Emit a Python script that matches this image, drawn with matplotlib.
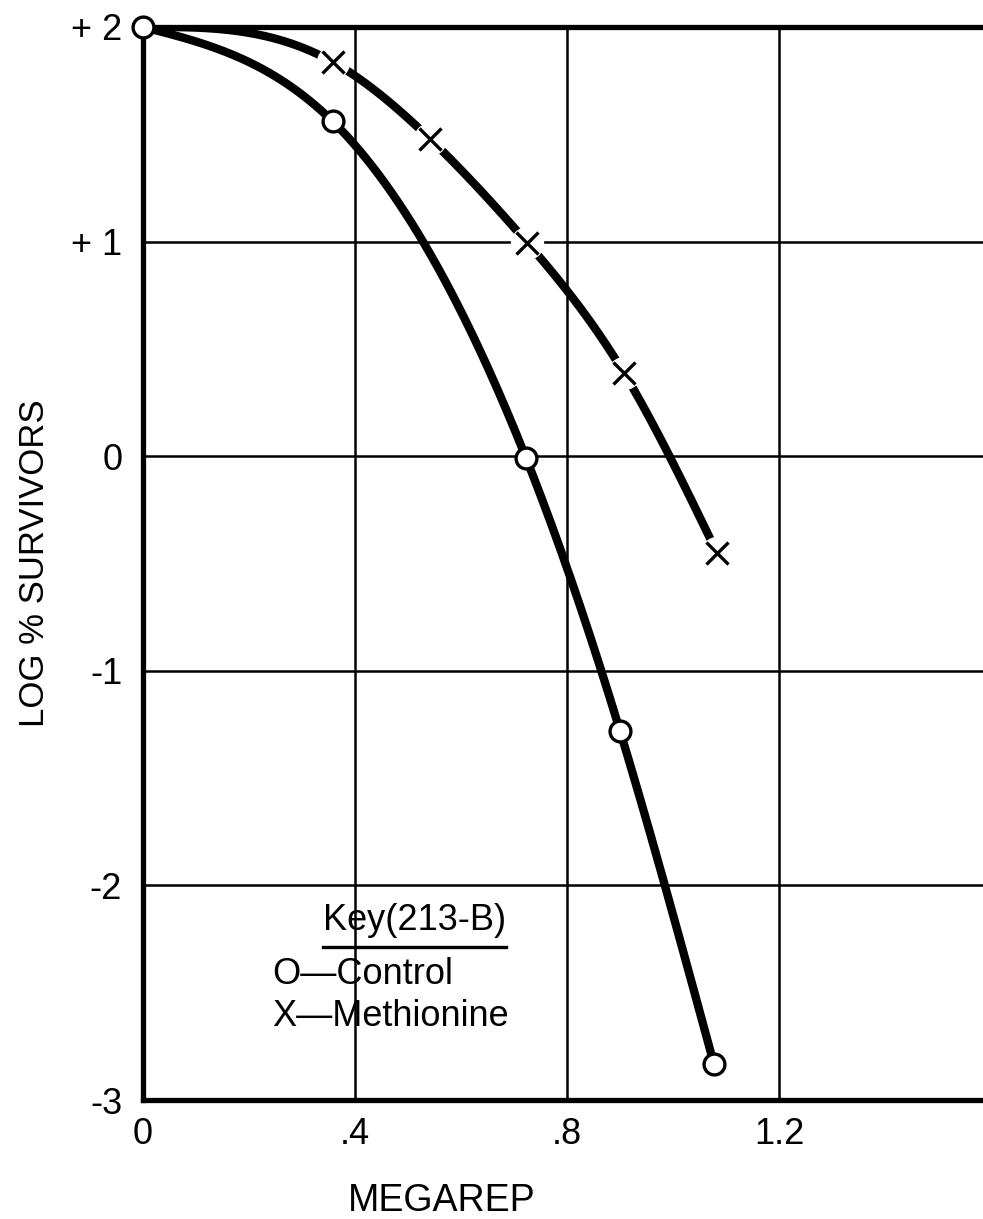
import matplotlib.pyplot as plt
from matplotlib.lines import Line2D
import numpy as np

dose_control = [0.0, 0.358, 0.723, 0.900, 1.077]
log_control = [2.0, 1.56, -0.01, -1.28, -2.83]

dose_methionine = [0.0, 0.358, 0.541, 0.725, 0.907, 1.083]
log_methionine = [2.0, 1.837, 1.48, 0.995, 0.39, -0.45]

x_ticks = [0, 0.4, 0.8, 1.2]
x_labels = ["0", ".4", ".8", "1.2"]
y_ticks = [2, 1, 0, -1, -2, -3]
y_labels = ["+ 2", "+ 1", "0", "-1", "-2", "-3"]

plt.rcParams['font.family'] = ['Liberation Sans', 'DejaVu Sans']


# hand-drawn look: natural cubic spline through the read points
def smooth_curve(x, y, n=60):
    x = np.asarray(x, float)
    y = np.asarray(y, float)
    h = np.diff(x)
    d = np.diff(y) / h
    k = len(x)
    A = np.zeros((k, k))
    r = np.zeros(k)
    A[0, 0] = A[-1, -1] = 1.0
    for i in range(1, k - 1):
        A[i, i - 1] = h[i - 1]
        A[i, i] = 2 * (h[i - 1] + h[i])
        A[i, i + 1] = h[i]
        r[i] = 6 * (d[i] - d[i - 1])
    M = np.linalg.solve(A, r)
    xs, ys = [], []
    for i in range(k - 1):
        t = np.linspace(x[i], x[i + 1], n)
        a = x[i + 1] - t
        b = t - x[i]
        s = (M[i] * a**3 + M[i + 1] * b**3) / (6 * h[i]) \
            + (y[i] / h[i] - M[i] * h[i] / 6) * a + (y[i + 1] / h[i] - M[i + 1] * h[i] / 6) * b
        xs.append(t)
        ys.append(s)
    return np.concatenate(xs), np.concatenate(ys)


fig = plt.figure(figsize=(9.83, 12.19), dpi=100)
ax = fig.add_axes([143 / 983, 119 / 1219, 840 / 983, 1073 / 1219])
ax.set_xlim(0, 840 / 212 * 0.4)
ax.set_ylim(-3, 2)

ax.set_xticks(x_ticks)
ax.set_xticklabels(x_labels)
ax.set_yticks(y_ticks)
ax.set_yticklabels(y_labels)
ax.tick_params(length=0, labelsize=26, pad=15)
ax.tick_params(axis='x', pad=12)
ax.grid(True, color='black', linewidth=1.8, zorder=1)
ax.set_axisbelow(True)

for side in ['left', 'bottom', 'top']:
    ax.spines[side].set_linewidth(3.8)
ax.spines['right'].set_visible(False)

# curves
cx, cy = smooth_curve(dose_control, log_control)
mx, my = smooth_curve(dose_methionine, log_methionine)
ax.plot(cx, cy, color='black', linewidth=6, solid_capstyle='round', zorder=3)
ax.plot(mx, my, color='black', linewidth=6, solid_capstyle='round', zorder=3)

# white halo so the line breaks around each X
ax.plot(dose_methionine[1:], log_methionine[1:], linestyle='none', marker='o',
        markersize=23, markerfacecolor='white', markeredgecolor='white', zorder=4)
ax.plot(dose_methionine[1:], log_methionine[1:], linestyle='none', marker='x',
        markersize=16, markeredgewidth=2.4, color='black', zorder=5)

ax.plot(dose_control, log_control, linestyle='none', marker='o', markersize=15,
        markerfacecolor='white', markeredgecolor='black', markeredgewidth=2.4,
        zorder=6, clip_on=False)

# axis titles
fig.text(442 / 983, 1 - 1201 / 1219, "MEGAREP", fontsize=27, ha='center', va='center')
fig.text(35 / 983, 1 - 563 / 1219, "LOG % SURVIVORS", fontsize=25, rotation=90,
         ha='center', va='center')

# key
fig.text(323 / 983, 1 - 920 / 1219, "Key(213-B)", fontsize=26, ha='left', va='center')
fig.add_artist(Line2D([323 / 983, 506 / 983], [1 - 947 / 1219, 1 - 947 / 1219],
                      color='black', linewidth=2.4, transform=fig.transFigure))
fig.text(272 / 983, 1 - 975 / 1219, "O\u2014Control", fontsize=26, ha='left', va='center')
fig.text(272 / 983, 1 - 1017 / 1219, "X\u2014Methionine", fontsize=26, ha='left', va='center')

fig.savefig("out.png", dpi=100)
